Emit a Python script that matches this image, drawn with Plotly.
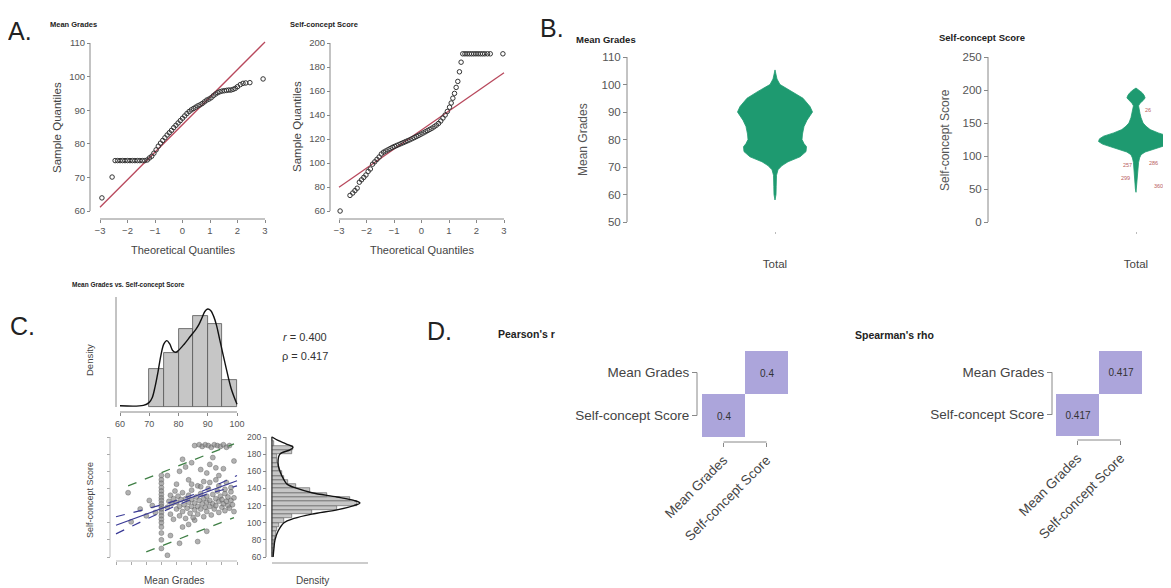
import plotly.graph_objects as go

W, H = 1171, 588          # browser window
OX, OY = 8, 8             # default page margin of the html body
FW, FH = W - OX, H - OY   # figure size so that it fits in the window
FONT = "Liberation Sans, Arial, sans-serif"

# ====================== DATA ======================
# A. Normal Q-Q plots
mg_qq_theo = [-2.93, -2.56, -2.45, -2.36, -2.27, -2.18, -2.09, -2.0, -1.91, -1.82, -1.73, -1.64,
              -1.55, -1.46, -1.37, -1.28, -1.2, -1.12, -1.04, -0.96, -0.88, -0.8, -0.72, -0.64,
              -0.56, -0.48, -0.4, -0.32, -0.24, -0.16, -0.08, 0.0, 0.08, 0.16, 0.24, 0.32, 0.4,
              0.48, 0.56, 0.64, 0.72, 0.8, 0.88, 0.96, 1.04, 1.12, 1.2, 1.28, 1.36, 1.44, 1.52,
              1.6, 1.68, 1.76, 1.84, 1.92, 2.0, 2.1, 2.2, 2.3, 2.45, 2.93]
mg_qq_samp = [63.9, 70.1, 75.0, 75.0, 75.0, 75.0, 75.0, 75.0, 75.0, 75.0, 75.0, 75.0,
              75.0, 75.0, 75.0, 75.2, 75.8, 76.3, 77.2, 78.2, 79.3, 80.2, 81.0, 81.8,
              82.6, 83.3, 84.0, 84.8, 85.5, 86.2, 86.9, 87.6, 88.3, 89.0, 89.6, 90.1, 90.5,
              90.9, 91.3, 91.6, 92.0, 92.5, 93.0, 93.3, 93.7, 94.3, 94.8, 95.2, 95.5, 95.7, 95.8,
              95.9, 96.0, 96.0, 96.2, 96.5, 97.0, 97.6, 98.0, 98.1, 98.2, 99.3]
mg_qq_line = [85.7, 8.2]          # intercept, slope of reference line

sc_qq_theo = [-2.96, -2.6, -2.5, -2.42, -2.34, -2.26, -2.18, -2.1, -2.02, -1.94, -1.86, -1.78,
              -1.7, -1.62, -1.54, -1.46, -1.38, -1.3, -1.22, -1.14, -1.06, -0.98, -0.9, -0.82,
              -0.74, -0.66, -0.58, -0.5, -0.42, -0.34, -0.26, -0.18, -0.1, -0.02, 0.06, 0.14,
              0.22, 0.3, 0.38, 0.46, 0.54, 0.62, 0.7, 0.78, 0.86, 0.94, 1.02, 1.08, 1.14, 1.2,
              1.26, 1.32, 1.38, 1.44, 1.5, 1.58, 1.66, 1.74, 1.82, 1.9, 1.98, 2.06, 2.14, 2.22,
              2.3, 2.4, 2.5, 2.96]
sc_qq_samp = [60, 73, 75, 77, 79, 84, 86, 88, 90, 93, 95, 99,
              101, 103, 105, 107.5, 109, 110, 111, 112, 113, 113.8, 114.6, 115.4,
              116.2, 117, 117.8, 118.6, 119.4, 120.3, 121.2, 122.1, 123, 124, 125, 126,
              127, 128, 129, 130.2, 131.5, 133, 135, 137.5, 140, 143, 146.5, 150, 154, 158,
              163, 168, 176, 184, 191, 191, 191, 191, 191, 191, 191, 191, 191, 191,
              191, 191, 191, 191]
sc_qq_line = [127.5, 15.9]

# B. Violin profiles (value, relative density)
mg_violin_val = [105.3, 104, 102, 100, 97.5, 95, 92, 90, 87, 84.7, 82, 80, 78.5, 77.4, 75.6,
                 73.7, 71.9, 70.5, 69, 67, 63, 60, 58]
mg_violin_dens = [0, 0.027, 0.053, 0.133, 0.453, 0.747, 0.933, 1.0, 0.853, 0.773, 0.733, 0.72,
                  0.773, 0.84, 0.827, 0.667, 0.347, 0.187, 0.08, 0.04, 0.032, 0.027, 0]
sc_violin_val = [203, 200, 196, 192, 188, 184, 180, 176, 170, 164, 158, 150, 145, 140, 135, 130,
                 126, 122, 118, 114, 110, 106, 102, 97, 90, 80, 70, 60, 50, 45]
sc_violin_dens = [0, 0.081, 0.162, 0.216, 0.243, 0.189, 0.108, 0.068, 0.081, 0.108, 0.135, 0.189,
                  0.27, 0.378, 0.595, 0.865, 0.973, 1.0, 0.892, 0.676, 0.432, 0.243, 0.135, 0.095,
                  0.068, 0.054, 0.041, 0.027, 0.016, 0]
sc_outlier_ids = ["26", "257", "286", "299", "360", "20"]
sc_outlier_vals = [170, 86, 89, 67, 54, 74]
violin_category = ["Total"]

# C. Scatter with marginal distributions
mg_bin_centers = [72.5, 77.5, 82.5, 87.5, 92.5, 97.5]
mg_bin_density = [0.0205, 0.0291, 0.0420, 0.0491, 0.0447, 0.0146]
mg_kde_x = [60, 68, 70, 71, 72, 73, 74, 75, 76, 77, 78, 79, 80, 82, 84, 86, 87, 88, 89, 90, 91,
            92, 93, 94, 96, 98, 100]
mg_kde_y = [0.0007, 0.0009, 0.0025, 0.0050, 0.0110, 0.0190, 0.0280, 0.0340, 0.0358, 0.0340,
            0.0305, 0.0295, 0.0305, 0.0340, 0.0380, 0.0420, 0.0445, 0.0480, 0.0515, 0.0528,
            0.0520, 0.0490, 0.0440, 0.0370, 0.0230, 0.0100, 0.0015]

sc_bin_centers = [62.5, 67.5, 72.5, 77.5, 82.5, 87.5, 92.5, 97.5, 102.5, 107.5, 112.5, 117.5,
                  122.5, 127.5, 132.5, 137.5, 142.5, 147.5, 152.5, 157.5, 162.5, 167.5, 172.5,
                  177.5, 182.5, 187.5, 192.5, 197.5]
sc_bin_density = [0.0004, 0.0004, 0.0007, 0.0007, 0.0011, 0.0015, 0.0018, 0.0026, 0.0044,
                  0.0073, 0.0147, 0.0238, 0.0311, 0.0286, 0.0201, 0.0139, 0.0088, 0.0059,
                  0.0044, 0.0037, 0.0026, 0.0022, 0.0018, 0.0018, 0.0073, 0.0077, 0.0007, 0.0]
sc_kde_val = [60, 70, 80, 90, 100, 105, 110, 115, 120, 123, 126, 130, 135, 140, 145, 150, 160,
              170, 180, 185, 188, 192, 196, 200]
sc_kde_dens = [0.0004, 0.0007, 0.0011, 0.0022, 0.0044, 0.0081, 0.0146, 0.0238, 0.0300, 0.0322,
               0.0300, 0.0238, 0.0146, 0.0092, 0.0055, 0.0044, 0.0029, 0.0022, 0.0029, 0.0066,
               0.0077, 0.0051, 0.0022, 0.0]

scatter_mg = [86, 87.5, 88.5, 89.5, 90.5, 91.5, 92.5, 93.5, 94.5, 95.5, 96.5, 97.5,
              82, 81, 88, 93, 95.5, 91, 77, 84, 87, 90, 96.5, 98, 94, 85, 92, 99, 80, 83,
              75, 75, 75, 75, 75, 75, 75, 75, 75, 75, 75, 75, 75, 75, 75, 75, 75, 75, 75,
              64, 70, 68, 65, 72, 73, 71,
              77, 78, 81, 87, 82, 84, 90, 86,
              77, 77.5, 78, 78, 78.5, 79, 79, 79.5, 80, 80, 80.5, 81, 81, 81.5, 82, 82, 82.5,
              83, 83, 83.5, 84, 84, 84.5, 85, 85, 85, 85.5, 86, 86, 86.5, 87, 87, 87.5, 88, 88,
              88.5, 89, 89, 89.5, 90, 90, 90, 90.5, 91, 91, 91.5, 92, 92, 92.5, 93, 93, 93.5,
              94, 94, 94.5, 95, 95, 95.5, 96, 96, 96.5, 97, 97, 97.5, 98, 98, 98.5, 99, 99,
              85, 88, 91, 94, 96, 93, 89]
scatter_sc = [190, 191, 189, 191, 190, 188, 191, 190, 189, 191, 188, 190,
              174, 160, 162, 164, 163, 168, 155, 150, 143, 158, 147, 141, 155, 170, 176, 172, 145, 165,
              155, 150, 146, 141, 137, 133, 129, 126, 122, 119, 116, 112, 108, 104, 100, 95, 88, 80, 70,
              135, 108, 116, 101, 120, 112, 126,
              62, 85, 76, 78, 95, 98, 90, 103,
              118, 125, 132, 110, 122, 128, 104, 137, 116, 124, 131, 108, 119, 127, 113, 135, 121,
              105, 128, 117, 124, 132, 111, 119, 127, 138, 106, 115, 123, 130, 119, 110, 126, 134, 116,
              122, 128, 107, 118, 124, 131, 113, 140, 119, 126, 109, 122, 133, 116, 128, 120, 137,
              112, 125, 131, 118, 127, 122, 134, 114, 125, 120, 130, 117, 126, 136, 121, 129, 113,
              145, 142, 147, 143, 139, 150, 148]
reg_x = [60, 100]
reg_y = [97, 149]
ci_x = [60, 70, 80, 85, 90, 100]
ci_lo = [87, 104, 120, 127, 133, 143]
ci_hi = [107, 116, 126, 132, 139, 155]
pi_up_x = [64, 99]
pi_up_y = [143, 192]
pi_lo_x = [70, 99]
pi_lo_y = [66, 106]
pearson_text = "<i>r</i> = 0.400"
spearman_text = "ρ = 0.417"

# D. Correlation heat maps
variables = ["Mean Grades", "Self-concept Score"]
pearson_r = 0.4
spearman_rho = 0.417

# ====================== HELPERS ======================
def px(x):
    return (x - OX) / FW

def py(y):
    return 1 - (y - OY) / FH

def xdom(a, b):
    return [max(0, px(a)), min(1, px(b))]

def ydom(top, bot):
    return [max(0, py(bot)), min(1, py(top))]

def rng(p0, v0, p1, v1, lo, hi):
    s = (v1 - v0) / (p1 - p0)
    return [v0 + (lo - p0) * s, v0 + (hi - p0) * s]

def axis(dom, rnge, pos, **kw):
    d = dict(domain=dom, range=rnge, anchor="free", position=pos, showgrid=False,
             zeroline=False, showline=False, ticks="outside", ticklen=3, tickwidth=1,
             tickcolor="#888", tickfont=dict(family=FONT, size=9.5, color="#555"),
             fixedrange=True, automargin=False)
    d.update(kw)
    return d

shapes = []
def hline(xref, x0, x1, ypx, color="#888", width=1):
    shapes.append(dict(type="line", xref=xref, yref="paper", x0=x0, x1=x1,
                       y0=py(ypx), y1=py(ypx), line=dict(color=color, width=width)))

def vline(yref, y0, y1, xpx, color="#888", width=1):
    shapes.append(dict(type="line", xref="paper", yref=yref, x0=px(xpx), x1=px(xpx),
                       y0=y0, y1=y1, line=dict(color=color, width=width)))

annots = []
def txt(xpx, ypx, text, size, bold=False, xanchor="center", angle=0, color="#333"):
    annots.append(dict(x=px(xpx), y=py(ypx), xref="paper", yref="paper",
                       text=f"<b>{text}</b>" if bold else text, showarrow=False,
                       font=dict(family=FONT, size=size, color=color),
                       xanchor=xanchor, yanchor="middle", textangle=angle))

fig = go.Figure()
L = {}

# ====================== A. QQ plots ======================
qq_marker = dict(symbol="circle-open", size=4.5, color="#333", line=dict(width=1, color="#333"))
red = "#b8485c"

def qq_panel(n, theo, samp, line, xd, xr, yd, yr, xaxis_py, yaxis_px, ytick0, ydt, ymin, ymax):
    xa, ya = ("x", "y") if n == 1 else (f"x{n}", f"y{n}")
    fig.add_trace(go.Scatter(x=[-3, 3], y=[line[0] - 3 * line[1], line[0] + 3 * line[1]],
                             mode="lines", line=dict(color=red, width=1.3),
                             xaxis=xa, yaxis=ya, showlegend=False, hoverinfo="skip"))
    fig.add_trace(go.Scatter(x=theo, y=samp, mode="markers", marker=qq_marker,
                             xaxis=xa, yaxis=ya, showlegend=False, cliponaxis=False))
    key = "" if n == 1 else str(n)
    L["xaxis" + key] = axis(xd, xr, py(xaxis_py), tick0=-3, dtick=1)
    L["yaxis" + key] = axis(yd, yr, px(yaxis_px), tick0=ytick0, dtick=ydt)
    hline(xa, -3, 3, xaxis_py)
    vline(ya, ymin, ymax, yaxis_px)

# Mean Grades QQ
qq_panel(1, mg_qq_theo, mg_qq_samp, mg_qq_line,
         xdom(94, 272), rng(100, -3, 265, 3, 94, 272),
         ydom(36, 214), rng(43, 110, 211, 60, 214, 36),
         219, 90, 60, 10, 60, 110)
# Self-concept QQ
qq_panel(2, sc_qq_theo, sc_qq_samp, sc_qq_line,
         xdom(333, 511), rng(339, -3, 504, 3, 333, 511),
         ydom(36, 214), rng(43, 200, 211, 60, 214, 36),
         219, 330, 60, 20, 60, 200)

txt(6, 31, "A.", 25, xanchor="left", color="#222")
txt(73, 24, "Mean Grades", 7.5, bold=True, color="#222")
txt(324, 24, "Self-concept Score", 7.5, bold=True, color="#222")
txt(183, 250, "Theoretical Quantiles", 11, color="#444")
txt(422, 250, "Theoretical Quantiles", 11, color="#444")
txt(57, 127, "Sample Quantiles", 11.5, angle=-90, color="#444")
txt(297, 127, "Sample Quantiles", 11.5, angle=-90, color="#444")

# ====================== B. Violins ======================
green = "#1e9a70"
VW = 37.5

def violin(n, vals, dens, xd, xr, yd, yr, yaxis_px, ymin, ymax, dt):
    xs = [d * VW for d in dens] + [-d * VW for d in reversed(dens)]
    ys = list(vals) + list(reversed(vals))
    fig.add_trace(go.Scatter(x=xs, y=ys, mode="lines", fill="toself", fillcolor=green,
                             line=dict(color=green, width=0.8), xaxis=f"x{n}", yaxis=f"y{n}",
                             showlegend=False, hoverinfo="skip"))
    L[f"xaxis{n}"] = axis(xd, xr, py(231), tickvals=[0], ticktext=violin_category,
                          ticklen=2, tickcolor="#bbb", ticklabelstandoff=20,
                          tickfont=dict(family=FONT, size=11.5, color="#444"))
    L[f"yaxis{n}"] = axis(yd, yr, px(yaxis_px), tick0=ymin, dtick=dt, ticklen=4,
                          tickfont=dict(family=FONT, size=11.5, color="#555"))
    vline(f"y{n}", ymin, ymax, yaxis_px)

violin(3, mg_violin_val, mg_violin_dens, xdom(700, 850), [-75, 75],
       ydom(50, 228), rng(57, 110, 222, 50, 228, 50), 627, 50, 110, 10)
violin(4, sc_violin_val, sc_violin_dens, xdom(1066, 1171), [-70, 35],
       ydom(50, 228), rng(57, 250, 222, 0, 228, 50), 988, 0, 250, 50)

out_dx = [12, -9, 17, -11, 22, 32]
for lab, v, dx in zip(sc_outlier_ids, sc_outlier_vals, out_dx):
    annots.append(dict(x=dx, y=v, xref="x4", yref="y4", text=lab, showarrow=False,
                       font=dict(family=FONT, size=5.5, color="#b86060")))

txt(538, 28, "B.", 25, xanchor="left", color="#222")
txt(606, 39, "Mean Grades", 9.5, bold=True, color="#222")
txt(982, 38, "Self-concept Score", 9.5, bold=True, color="#222")
txt(583, 140, "Mean Grades", 12, angle=-90, color="#555")
txt(945, 140, "Self-concept Score", 12, angle=-90, color="#555")

# ====================== C. Scatter + marginals ======================
bar_fill = "#c6c6c6"
bar_edge = "#555"
# top histogram
fig.add_trace(go.Bar(x=mg_bin_centers, y=mg_bin_density, width=5,
                     marker=dict(color=bar_fill, line=dict(color=bar_edge, width=0.8)),
                     xaxis="x5", yaxis="y5", showlegend=False))
fig.add_trace(go.Scatter(x=mg_kde_x, y=mg_kde_y, mode="lines", line=dict(color="#111", width=1.4,
                         shape="spline"), xaxis="x5", yaxis="y5", showlegend=False))
L["xaxis5"] = axis(xdom(116, 241), rng(120, 60, 237, 100, 116, 241), py(412),
                   tick0=60, dtick=10, tickfont=dict(family=FONT, size=9, color="#555"))
L["yaxis5"] = axis(ydom(297, 408), rng(407, 0, 297, 0.0593, 408, 297), px(116),
                   showticklabels=False, ticks="")
hline("x5", 60, 100, 412)
shapes.append(dict(type="line", xref="paper", yref="paper", x0=px(116), x1=px(116),
                   y0=py(407), y1=py(297), line=dict(color="#888", width=1)))

# scatter
green_d = "#3f7f45"
blue_d = "#3a3a96"
fig.add_trace(go.Scatter(x=scatter_mg, y=scatter_sc, mode="markers",
                         marker=dict(size=5, color="rgba(135,135,135,0.65)",
                                     line=dict(color="rgba(80,80,80,0.6)", width=0.6)),
                         xaxis="x6", yaxis="y6", showlegend=False))
fig.add_trace(go.Scatter(x=pi_up_x, y=pi_up_y, mode="lines",
                         line=dict(color=green_d, width=1.3, dash="dash"),
                         xaxis="x6", yaxis="y6", showlegend=False))
fig.add_trace(go.Scatter(x=pi_lo_x, y=pi_lo_y, mode="lines",
                         line=dict(color=green_d, width=1.3, dash="dash"),
                         xaxis="x6", yaxis="y6", showlegend=False))
fig.add_trace(go.Scatter(x=ci_x, y=ci_hi, mode="lines", line=dict(color=blue_d, width=1.2,
                         dash="dash", shape="spline"), xaxis="x6", yaxis="y6", showlegend=False))
fig.add_trace(go.Scatter(x=ci_x, y=ci_lo, mode="lines", line=dict(color=blue_d, width=1.2,
                         dash="dash", shape="spline"), xaxis="x6", yaxis="y6", showlegend=False))
fig.add_trace(go.Scatter(x=reg_x, y=reg_y, mode="lines", line=dict(color=blue_d, width=1.2),
                         xaxis="x6", yaxis="y6", showlegend=False))
L["xaxis6"] = axis(xdom(110, 242), rng(116, 60, 237, 100, 110, 242), py(561),
                   tick0=60, dtick=5, showticklabels=False, tickcolor="#aaa")
L["yaxis6"] = axis(ydom(430, 558), rng(437, 200, 557, 60, 558, 430), px(110),
                   tick0=60, dtick=20, showticklabels=False, tickcolor="#aaa")
hline("x6", 60, 100, 561, color="#bbb")
vline("y6", 60, 200, 110, color="#bbb")

# right marginal
fig.add_trace(go.Bar(y=sc_bin_centers, x=sc_bin_density, width=5, orientation="h",
                     marker=dict(color=bar_fill, line=dict(color=bar_edge, width=0.6)),
                     xaxis="x7", yaxis="y7", showlegend=False))
fig.add_trace(go.Scatter(x=sc_kde_dens, y=sc_kde_val, mode="lines",
                         line=dict(color="#111", width=1.4, shape="spline"),
                         xaxis="x7", yaxis="y7", showlegend=False))
L["xaxis7"] = axis(xdom(270, 368), rng(272, 0, 355, 0.0304, 270, 368), py(562),
                   showticklabels=False, ticks="")
L["yaxis7"] = axis(ydom(430, 558), rng(437, 200, 557, 60, 558, 430), px(266),
                   tick0=60, dtick=20, tickfont=dict(family=FONT, size=8.5, color="#555"))
vline("y7", 60, 200, 266)
shapes.append(dict(type="line", xref="x7", yref="y7", x0=0, x1=0, y0=60, y1=200,
                   line=dict(color="#333", width=1)))
shapes.append(dict(type="line", xref="paper", yref="paper", x0=px(272), x1=px(368),
                   y0=py(563), y1=py(563), line=dict(color="#ccc", width=2)))

txt(8, 326, "C.", 25, xanchor="left", color="#222")
txt(128, 285, "Mean Grades vs. Self-concept Score", 6.5, bold=True, color="#222")
txt(89, 360, "Density", 9.5, angle=-90, color="#444")
txt(305, 337, pearson_text, 11, color="#333")
txt(305, 356, spearman_text, 11, color="#333")
txt(90, 500, "Self-concept Score", 9, angle=-90, color="#444")
txt(175, 580, "Mean Grades", 10, color="#444")
txt(313, 580, "Density", 10, color="#444")

# ====================== D. Heat maps ======================
lav = "#aca5db"

def heat(n, val, xd, yd, xaxis_py, yaxis_px):
    z = [[val, None], [None, val]]
    t = [[f"{val:g}", ""], ["", f"{val:g}"]]
    fig.add_trace(go.Heatmap(z=z, x=variables, y=list(reversed(variables)), text=t,
                             texttemplate="%{text}", textfont=dict(family=FONT, size=10, color="#333"),
                             colorscale=[[0, lav], [1, lav]], showscale=False,
                             xaxis=f"x{n}", yaxis=f"y{n}", hoverinfo="skip"))
    L[f"xaxis{n}"] = axis(xd, [-0.5, 1.5], py(xaxis_py), type="category", tickangle=-45,
                          ticklen=4, tickfont=dict(family=FONT, size=13.5, color="#444"))
    L[f"yaxis{n}"] = axis(yd, [-0.5, 1.5], px(yaxis_px), type="category", ticklen=5,
                          tickfont=dict(family=FONT, size=13.5, color="#444"))
    shapes.append(dict(type="line", xref=f"x{n}", yref="paper", x0=0, x1=1,
                       y0=py(xaxis_py), y1=py(xaxis_py), line=dict(color="#888", width=1)))
    shapes.append(dict(type="line", xref="paper", yref=f"y{n}", x0=px(yaxis_px), x1=px(yaxis_px),
                       y0=0, y1=1, line=dict(color="#888", width=1)))

heat(8, pearson_r, xdom(702, 788), ydom(351, 437), 442, 697)
heat(9, spearman_rho, xdom(1056, 1142), ydom(351, 436), 440, 1052)

txt(425, 331, "D.", 25, xanchor="left", color="#222")
txt(526, 334, "Pearson's r", 10.5, bold=True, color="#222")
txt(894, 335, "Spearman's rho", 10.5, bold=True, color="#222")

fig.update_layout(**L)
fig.update_layout(width=FW, height=FH, margin=dict(l=0, r=0, t=0, b=0, autoexpand=False),
                  paper_bgcolor="white", plot_bgcolor="rgba(0,0,0,0)",
                  shapes=shapes, annotations=annots, showlegend=False,
                  font=dict(family=FONT), bargap=0)
fig.write_html("out.html")
